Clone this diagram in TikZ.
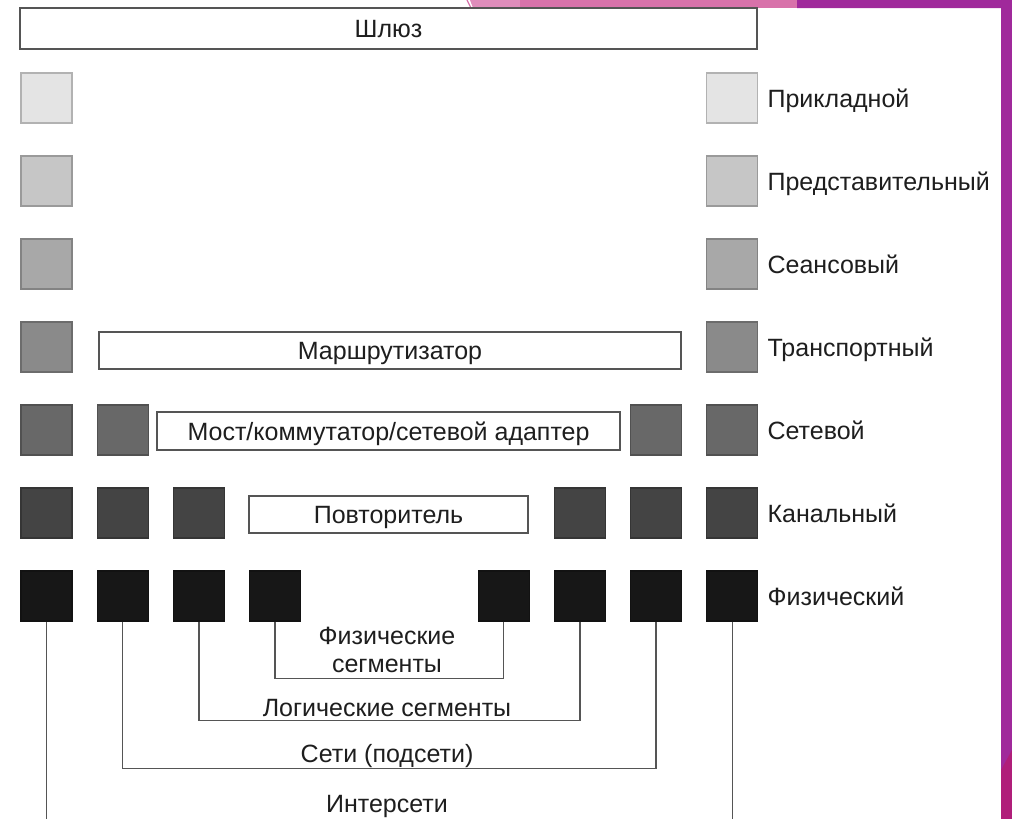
\documentclass[tikz,border=0pt]{standalone}
\usepackage{fontspec}
\setmainfont{Liberation Sans}
\usepackage{tikz}
\usetikzlibrary{positioning}

\definecolor{lay1}{HTML}{E4E4E4}
\definecolor{lay2}{HTML}{C6C6C6}
\definecolor{lay3}{HTML}{A8A8A8}
\definecolor{lay4}{HTML}{8A8A8A}
\definecolor{lay5}{HTML}{686868}
\definecolor{lay6}{HTML}{444444}
\definecolor{lay7}{HTML}{171717}
\definecolor{inkgray}{HTML}{1E1E1E}
\definecolor{linegray}{HTML}{555555}
\definecolor{slidepink}{HTML}{D872AA}
\definecolor{slidelpink}{HTML}{DF8DBB}
\definecolor{slidepurple}{HTML}{A0299B}
\definecolor{slidemag}{HTML}{B01E7A}
\newcommand{\diagfont}{\fontsize{25}{28}\selectfont}

\begin{document}
\begin{tikzpicture}[x=1pt,y=-1pt,node distance=83pt and 76.2pt,on grid,
    sq/.style={minimum width=51pt,minimum height=50pt,inner sep=0pt,
      line width=1.2pt,fill=#1,draw=#1!78!black},
    capmid/.style={text height=18pt,text depth=-1pt},
    box/.style={draw=linegray,fill=white,line width=1.4pt,inner sep=0pt,
      text=inkgray,font=\diagfont,capmid},
    lbl/.style={text=inkgray,font=\diagfont,inner sep=0pt},
    seg/.style={draw=linegray,line width=1.3pt}]
  \useasboundingbox (0,0) rectangle (1012,819);
  % slide background
  \fill[white] (0,0) rectangle (1012,819);
  \fill[slidelpink] (470,0) -- (520,0) -- (520,8) -- (473,8) -- cycle;
  \fill[slidepink] (520,0) rectangle (797,8);
  \draw[slidepink,line width=1.2pt] (467,0) -- (471,8);

  % devices
  \node[box,minimum width=737pt,minimum height=41pt] (gate) at (388.5,28.5) {Шлюз};
  \node[box,minimum width=582pt,minimum height=37pt] (router) at (390,350.5) {Маршрутизатор};
  \node[box,minimum width=463pt,minimum height=38pt] (bridge) at (388.5,431) {Мост/коммутатор/сетевой адаптер};
  \node[box,minimum width=279pt,minimum height=37pt] (repeater) at (388.5,514.5) {Повторитель};

  % layer squares
  \node[sq=lay1] (app1) at (46.5,98) {};
  \node[sq=lay1,right=685.8pt of app1] (app8) {};
  \node[sq=lay2,below=of app1] (pres1) {};
  \node[sq=lay2,below=of app8] (pres8) {};
  \node[sq=lay3,below=of pres1] (sess1) {};
  \node[sq=lay3,below=of pres8] (sess8) {};
  \node[sq=lay4,below=of sess1] (tran1) {};
  \node[sq=lay4,below=of sess8] (tran8) {};
  \node[sq=lay5,below=of tran1] (net1) {};
  \node[sq=lay5,right=of net1] (net2) {};
  \node[sq=lay5,below=of tran8] (net8) {};
  \node[sq=lay5,left=of net8] (net7) {};
  \node[sq=lay6,below=of net1] (link1) {};
  \node[sq=lay6,right=of link1] (link2) {};
  \node[sq=lay6,right=of link2] (link3) {};
  \node[sq=lay6,below=of net8] (link8) {};
  \node[sq=lay6,left=of link8] (link7) {};
  \node[sq=lay6,left=of link7] (link6) {};
  \node[sq=lay7,below=of link1] (phy1) {};
  \node[sq=lay7,right=of phy1] (phy2) {};
  \node[sq=lay7,right=of phy2] (phy3) {};
  \node[sq=lay7,right=of phy3] (phy4) {};
  \node[sq=lay7,below=of link8] (phy8) {};
  \node[sq=lay7,left=of phy8] (phy7) {};
  \node[sq=lay7,left=of phy7] (phy6) {};
  \node[sq=lay7,left=of phy6] (phy5) {};

  % layer names
  \node[lbl,capmid,right=9pt of app8.east,anchor=west] (appname) {Прикладной};
  \node[lbl,capmid,right=9pt of pres8.east,anchor=west] (presname) {Представительный};
  \node[lbl,capmid,right=9pt of sess8.east,anchor=west] (sessname) {Сеансовый};
  \node[lbl,capmid,right=9pt of tran8.east,anchor=west] (tranname) {Транспортный};
  \node[lbl,capmid,right=9pt of net8.east,anchor=west] (netname) {Сетевой};
  \node[lbl,capmid,right=9pt of link8.east,anchor=west] (linkname) {Канальный};
  \node[lbl,capmid,right=9pt of phy8.east,anchor=west] (phyname) {Физический};

  % segments
  \draw[seg] (phy4.south) -- ++(0,57) -| (phy5.south);
  \draw[seg] (phy3.south) -- ++(0,99) -| (phy6.south);
  \draw[seg] (phy2.south) -- ++(0,147) -| (phy7.south);
  \coordinate (bottom) at (0,819);
  \draw[seg] (phy1.south) -- (phy1 |- bottom);
  \draw[seg] (phy8.south) -- (phy8 |- bottom);
  \node[lbl,align=center] (physeg) at (387,650) {Физические\\сегменты};
  \node[lbl,capmid] (logseg) at (387,707) {Логические сегменты};
  \node[lbl,capmid] (subnets) at (387,753) {Сети (подсети)};
  \node[lbl,capmid] (internets) at (387,803) {Интерсети};

  % slide frame on the right
  \fill[slidepurple] (797,0) -- (1012,0) -- (1012,819) -- (1001,819) -- (1001,8) -- (797,8) -- cycle;
  \fill[slidemag] (1001,770) -- (1012,750) -- (1012,819) -- (1001,819) -- cycle;
\end{tikzpicture}
\end{document}
